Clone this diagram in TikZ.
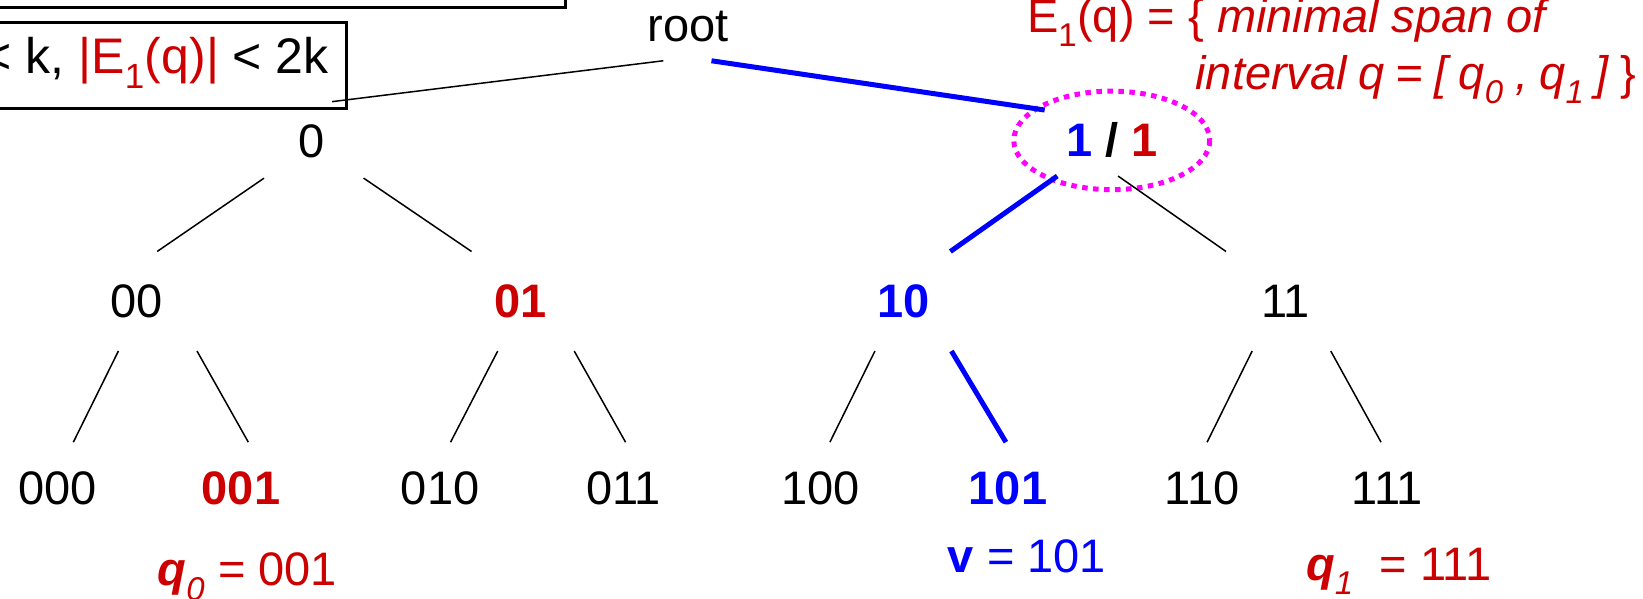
\documentclass[tikz,border=0pt]{standalone}
\usepackage{fontspec}
\setmainfont{Liberation Sans}
\definecolor{myred}{RGB}{204,0,0}
\definecolor{myblue}{RGB}{0,0,255}
\definecolor{mymag}{RGB}{255,0,255}
\begin{document}
\begin{tikzpicture}[x=1.0478pt,y=-1.0478pt,
  lbl/.style={font=\fontsize{47}{56}\selectfont, inner sep=0pt, anchor=base},
  thinedge/.style={line width=1.5pt, black},
  hotedge/.style={line width=5pt, myblue},
  boxline/.style={line width=3pt, black},
  dotring/.style={mymag, line width=5pt, dash pattern=on 5.5pt off 5.5pt}]
\useasboundingbox (0,0) rectangle (1568,571);
\clip (0,0) rectangle (1568,571);

% boxes at top left (cut by the picture border)
\draw[boxline] (-20,-60) rectangle (540,7.6);
\draw[boxline] (-20,21) rectangle (331,104);
\node[lbl, anchor=base east, font=\fontsize{50}{60}\selectfont] (cond) at (314,70) {< k, \textcolor{myred}{|E\textsubscript{1}(q)|} < 2k};

% definition text
\node[lbl, anchor=base west, text=myred] (def1) at (980,31) {E\textsubscript{1}(q) = \{ \textit{minimal span of}};
\node[lbl, anchor=base east, text=myred] (def2) at (1562,85) {\spaceskip=0.24em\relax\textit{interval q = [ q\textsubscript{0} , q\textsubscript{1} ]} \}};

% tree nodes
\node[lbl] (root) at (657,40) {root};
\node[lbl] (n0) at (297,150) {0};
\node[lbl] (n1) at (1061,149) {\textbf{\textcolor{myblue}{1} / \textcolor{myred}{1}}};
\draw[dotring] (1061,134) ellipse [x radius=93.5, y radius=47];

\node[lbl] (n00) at (130,303) {00};
\node[lbl, text=myred] (n01) at (497,303) {\textbf{01}};
\node[lbl, text=myblue] (n10) at (862,303) {\textbf{10}};
\node[lbl] (n11) at (1227,303) {11};

\node[lbl] (n000) at (55,481) {000};
\node[lbl, text=myred] (n001) at (230,481) {\textbf{001}};
\node[lbl] (n010) at (420,481) {010};
\node[lbl] (n011) at (595,481) {011};
\node[lbl] (n100) at (783,481) {100};
\node[lbl, text=myblue] (n101) at (962,481) {\textbf{101}};
\node[lbl] (n110) at (1147,481) {110};
\node[lbl] (n111) at (1324,481) {111};

% bottom labels
\node[lbl, text=myred] (q0) at (236,559) {\textbf{\textit{q}}\textsubscript{\textit{0}} = 001};
\node[lbl, text=myblue] (v) at (980,546) {\textbf{v} = 101};
\node[lbl, text=myred] (q1) at (1335,554) {\textbf{\textit{q}}\textsubscript{\textit{1}}\ \ = 111};

% connector end points
\coordinate (root-w) at (633,58);
\coordinate (root-e) at (679,58);
\coordinate (cond-e) at (317,97);
\coordinate (n1-in) at (997,105);
\coordinate (n0-sw) at (252,170);
\coordinate (n0-se) at (347,170);
\coordinate (n00-n) at (150,240);
\coordinate (n01-n) at (450,240);
\coordinate (n1-sw) at (1009,168);
\coordinate (n1-se) at (1067,168);
\coordinate (n10-n) at (907,240);
\coordinate (n11-n) at (1170,240);
\coordinate (n00-sw) at (113,335);
\coordinate (n00-se) at (188,335);
\coordinate (n01-sw) at (475,335);
\coordinate (n01-se) at (548,335);
\coordinate (n10-sw) at (835,335);
\coordinate (n10-se) at (908,335);
\coordinate (n11-sw) at (1195,335);
\coordinate (n11-se) at (1270,335);
\coordinate (n000-n) at (70,422);
\coordinate (n001-n) at (237,422);
\coordinate (n010-n) at (430,422);
\coordinate (n011-n) at (597,422);
\coordinate (n100-n) at (792,422);
\coordinate (n101-n) at (960,422);
\coordinate (n110-n) at (1152,422);
\coordinate (n111-n) at (1318,422);

% connectors
\draw[thinedge] (root-w) -- (cond-e);
\draw[hotedge] (root-e) -- (n1-in);
\draw[thinedge] (n0-sw) -- (n00-n);
\draw[thinedge] (n0-se) -- (n01-n);
\draw[hotedge] (n1-sw) -- (n10-n);
\draw[thinedge] (n1-se) -- (n11-n);
\draw[thinedge] (n00-sw) -- (n000-n);
\draw[thinedge] (n00-se) -- (n001-n);
\draw[thinedge] (n01-sw) -- (n010-n);
\draw[thinedge] (n01-se) -- (n011-n);
\draw[thinedge] (n10-sw) -- (n100-n);
\draw[hotedge] (n10-se) -- (n101-n);
\draw[thinedge] (n11-sw) -- (n110-n);
\draw[thinedge] (n11-se) -- (n111-n);
\end{tikzpicture}
\end{document}
